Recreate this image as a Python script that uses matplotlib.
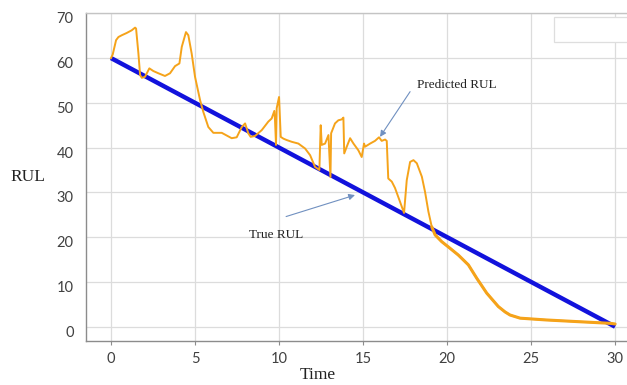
import numpy as np
import matplotlib
matplotlib.use('Agg')
import matplotlib.pyplot as plt
import matplotlib.transforms as mtrans
from matplotlib.patches import Rectangle

# true RUL: straight line from 60 at t=0 to 0 at t=30
true_time = [0, 30]
true_rul = [60, 0]

# predicted RUL
pred_time = [0.00, 0.10, 0.30, 0.44, 0.64, 0.93, 1.23, 1.43, 1.49, 1.63,
             1.73, 1.83, 2.02, 2.28, 2.52, 2.82, 3.21, 3.51, 3.81, 4.07,
             4.21, 4.46, 4.60, 4.80, 5.00, 5.30, 5.49, 5.79, 6.09, 6.59,
             7.18, 7.48, 7.78, 7.98, 8.17, 8.31, 8.57, 8.97, 9.36, 9.56,
             9.72, 9.76, 9.82, 9.86, 10.00, 10.10, 10.26, 10.45, 10.75, 11.15,
             11.55, 11.85, 12.14, 12.40, 12.48, 12.54, 12.74, 12.94, 13.06, 13.10,
             13.33, 13.53, 13.73, 13.83, 13.88, 14.03, 14.23, 14.43, 14.72, 14.92,
             15.06, 15.12, 15.42, 15.71, 15.95, 16.11, 16.31, 16.41, 16.50, 16.71,
             16.90, 17.20, 17.44, 17.60, 17.80, 18.00, 18.20, 18.50, 18.69, 18.89,
             19.09, 19.29, 19.68, 20.18, 20.67, 21.27, 21.77, 22.36, 23.05, 23.45,
             23.75, 24.35, 25.90, 27.90, 29.70, 30.00]
pred_rul = [60.0, 60.8, 64.0, 64.7, 65.1, 65.6, 66.2, 66.8, 66.6, 61.0,
            56.2, 55.6, 55.8, 57.7, 57.1, 56.6, 56.0, 56.6, 58.2, 58.8,
            62.5, 65.8, 65.1, 61.0, 55.8, 50.6, 48.0, 44.6, 43.3, 43.3,
            42.1, 42.3, 44.6, 45.4, 43.2, 42.4, 42.6, 43.9, 45.8, 46.5,
            48.2, 46.1, 40.6, 48.8, 51.3, 42.4, 42.0, 41.7, 41.3, 40.9,
            39.8, 38.3, 35.7, 35.0, 45.0, 40.6, 40.9, 42.8, 33.4, 43.2,
            45.4, 46.1, 46.3, 46.7, 38.7, 40.2, 42.1, 40.9, 39.4, 37.9,
            40.9, 40.2, 40.9, 41.5, 42.3, 41.5, 41.8, 41.5, 33.1, 32.4,
            31.0, 27.9, 25.4, 32.7, 36.8, 37.2, 36.5, 33.5, 30.1, 25.7,
            22.3, 20.5, 19.0, 17.5, 16.0, 13.8, 10.8, 7.5, 4.5, 3.3,
            2.6, 1.9, 1.5, 1.1, 0.75, 0.6]

x_ticks = [0, 5, 10, 15, 20, 25, 30]
y_ticks = [0, 10, 20, 30, 40, 50, 60, 70]

SERIF = ['Liberation Serif', 'DejaVu Serif']
ORANGE = '#F5A31A'
BLUE = '#1212DC'

fig = plt.figure(figsize=(6.27, 3.85), dpi=100, facecolor='white')
ax = fig.add_axes([86 / 627, 1 - 341 / 385, 1 - 86 / 627, (341 - 13.3) / 385])

ax.plot(true_time, true_rul, color=BLUE, lw=3.2, solid_capstyle='butt', zorder=3)

pt = np.array(pred_time)
pr = np.array(pred_rul)
ax.plot(pt, pr, color=ORANGE, lw=1.4, zorder=4)
tail = pt >= 19.0
ax.plot(pt[tail], pr[tail], color=ORANGE, lw=2.2, solid_capstyle='round', zorder=4)

ax.set_xlim(-1.49, 30.71)
ax.set_ylim(-3.2, 70)
ax.set_xticks(x_ticks)
ax.set_yticks(y_ticks)

ax.grid(True, color='#dcdcdc', lw=0.9, zorder=0)
ax.set_axisbelow(True)
ax.spines['right'].set_visible(False)
ax.spines['top'].set_color('#c4c4c4')
ax.spines['left'].set_color('#8c8c8c')
ax.spines['bottom'].set_color('#8c8c8c')
for s in ax.spines.values():
    s.set_linewidth(1.0)

ax.tick_params(axis='y', length=0, pad=9, labelsize=10.5, labelcolor='#404040')
ax.tick_params(axis='x', length=3, color='#8c8c8c', pad=5, labelsize=10.5,
               labelcolor='#404040')
for lbl in ax.get_xticklabels() + ax.get_yticklabels():
    lbl.set_family(['Lato', 'DejaVu Sans'])
off = mtrans.ScaledTranslation(0, -0.045, fig.dpi_scale_trans)
for lbl in ax.get_yticklabels():
    lbl.set_transform(lbl.get_transform() + off)

# annotations
arrow_kw = dict(arrowstyle='-|>', color='#7090C0', lw=0.8, mutation_scale=9,
                shrinkA=0, shrinkB=0)
ax.text(20.57, 53.9, 'Predicted RUL', family=SERIF, fontsize=9.5,
        ha='center', va='center', color='#222222')
ax.annotate('', xy=(16.01, 42.4), xytext=(17.8, 52.5), arrowprops=arrow_kw, zorder=5)
ax.text(9.82, 20.5, 'True RUL', family=SERIF, fontsize=9.5,
        ha='center', va='center', color='#222222')
ax.annotate('', xy=(14.52, 29.4), xytext=(10.42, 24.6), arrowprops=arrow_kw, zorder=5)

fig.text(28 / 627, 1 - 177 / 385, 'RUL', family=SERIF, fontsize=12.5,
         ha='center', va='center', color='#222222')
fig.text(318 / 627, 2 / 385, 'Time', family=SERIF, fontsize=12.5,
         ha='center', va='bottom', color='#222222')

# empty legend box in the top right corner
fig.add_artist(Rectangle((554 / 627, 1 - 42 / 385), 0.2, 25 / 385,
                         transform=fig.transFigure, facecolor='white',
                         edgecolor='#dedede', lw=0.9, zorder=5))

fig.savefig('out.png', dpi=100, facecolor='white')
